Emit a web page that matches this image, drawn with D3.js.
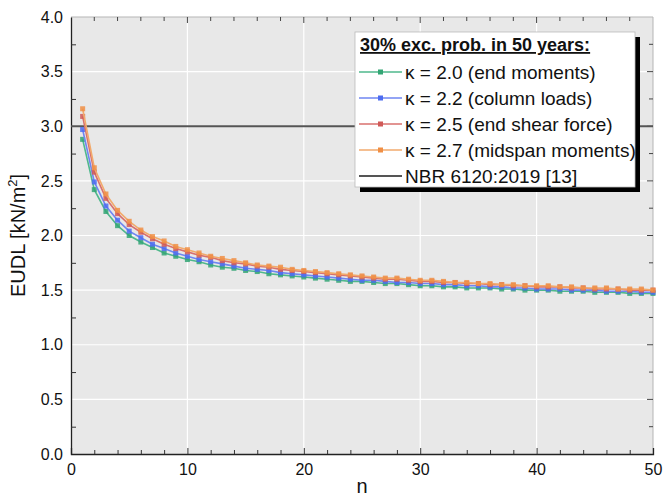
<!DOCTYPE html>
<html>
<head>
<meta charset="utf-8">
<script src="https://cdn.jsdelivr.net/npm/d3@7"></script>
<style>
  body { margin: 0; background: #fff; }
  text { font-family: "Liberation Sans", Arial, sans-serif; }
</style>
</head>
<body>
<div id="chart"></div>
<script>
// number of stories n = 1..50
const nValues = d3.range(1, 51);

// EUDL [kN/m2], one value per n
const k20 = [2.88, 2.42, 2.22, 2.09, 2.00, 1.94, 1.89, 1.84, 1.81, 1.78,
             1.76, 1.73, 1.71, 1.70, 1.68, 1.67, 1.65, 1.64, 1.63, 1.62,
             1.61, 1.60, 1.59, 1.58, 1.58, 1.57, 1.56, 1.56, 1.55, 1.54,
             1.54, 1.53, 1.53, 1.52, 1.52, 1.52, 1.51, 1.51, 1.50, 1.50,
             1.50, 1.49, 1.49, 1.49, 1.48, 1.48, 1.48, 1.47, 1.47, 1.47];
const k22 = [2.97, 2.49, 2.27, 2.14, 2.04, 1.98, 1.92, 1.88, 1.84, 1.81,
             1.78, 1.76, 1.74, 1.72, 1.70, 1.69, 1.68, 1.66, 1.65, 1.64,
             1.63, 1.62, 1.61, 1.60, 1.59, 1.59, 1.58, 1.57, 1.57, 1.56,
             1.56, 1.55, 1.55, 1.54, 1.54, 1.53, 1.53, 1.52, 1.52, 1.51,
             1.51, 1.51, 1.50, 1.50, 1.50, 1.49, 1.49, 1.49, 1.48, 1.48];
const k25 = [3.09, 2.58, 2.34, 2.20, 2.10, 2.03, 1.97, 1.92, 1.88, 1.85,
             1.82, 1.80, 1.77, 1.75, 1.74, 1.72, 1.71, 1.69, 1.68, 1.67,
             1.66, 1.65, 1.64, 1.63, 1.62, 1.61, 1.60, 1.60, 1.59, 1.58,
             1.58, 1.57, 1.57, 1.56, 1.56, 1.55, 1.55, 1.54, 1.54, 1.53,
             1.53, 1.53, 1.52, 1.52, 1.51, 1.51, 1.51, 1.50, 1.50, 1.50];
const k27 = [3.16, 2.62, 2.38, 2.23, 2.13, 2.05, 1.99, 1.95, 1.90, 1.87,
             1.84, 1.81, 1.79, 1.77, 1.75, 1.73, 1.72, 1.71, 1.69, 1.68,
             1.67, 1.66, 1.65, 1.64, 1.63, 1.62, 1.61, 1.61, 1.60, 1.59,
             1.59, 1.58, 1.57, 1.57, 1.56, 1.56, 1.55, 1.55, 1.54, 1.54,
             1.54, 1.53, 1.53, 1.52, 1.52, 1.52, 1.51, 1.51, 1.51, 1.50];
const nbrValue = 3.0;

const seriesNames = ["\u03BA = 2.0 (end moments)", "\u03BA = 2.2 (column loads)",
                     "\u03BA = 2.5 (end shear force)", "\u03BA = 2.7 (midspan moments)"];
const seriesData = [k20, k22, k25, k27];
const lineColors = ["#4fb88c", "#6f86f2", "#d8706e", "#f2aa6c"];
const markColors = ["#33a574", "#4d6cf0", "#d05a58", "#f08f45"];
const nbrName = "NBR 6120:2019 [13]";
const legendTitle = "30% exc. prob. in 50 years:";

const W = 663, H = 498;
const margin = {top: 17, right: 10, bottom: 44, left: 71};
const width = W - margin.left - margin.right,
      height = H - margin.top - margin.bottom;

const svg = d3.select("#chart").append("svg")
  .attr("width", W).attr("height", H);
const g = svg.append("g")
  .attr("transform", `translate(${margin.left},${margin.top})`);

const x = d3.scaleLinear().domain([0, 50]).range([0, width]);
const y = d3.scaleLinear().domain([0, 4]).range([height, 0]);

// plot background
g.append("rect").attr("width", width).attr("height", height).attr("fill", "#e8e8e8");

// white grid on major ticks
g.selectAll(".gx").data(d3.range(10, 50, 10)).join("line")
  .attr("x1", d => x(d)).attr("x2", d => x(d))
  .attr("y1", 0).attr("y2", height)
  .attr("stroke", "#fff").attr("stroke-width", 1.2);
g.selectAll(".gy").data(d3.range(0.5, 4, 0.5)).join("line")
  .attr("x1", 0).attr("x2", width)
  .attr("y1", d => y(d)).attr("y2", d => y(d))
  .attr("stroke", "#fff").attr("stroke-width", 1.2);

// top and right frame, light grey with inward ticks
g.append("line").attr("x1", 0).attr("x2", width).attr("y1", 0).attr("y2", 0)
  .attr("stroke", "#b5b5b5");
g.append("line").attr("x1", width).attr("x2", width).attr("y1", 0).attr("y2", height)
  .attr("stroke", "#b5b5b5");
g.selectAll(".tt").data(d3.range(2, 50, 2)).join("line")
  .attr("x1", d => x(d)).attr("x2", d => x(d))
  .attr("y1", 0).attr("y2", d => d % 10 === 0 ? 6 : 4)
  .attr("stroke", "#444");
g.selectAll(".rt").data(d3.range(0.25, 4, 0.25)).join("line")
  .attr("x1", width).attr("x2", d => width - (Math.abs(d % 0.5) < 1e-9 ? 6 : 4))
  .attr("y1", d => y(d)).attr("y2", d => y(d))
  .attr("stroke", "#444");

// axes
const xAxis = g.append("g").attr("transform", `translate(0,${height})`)
  .call(d3.axisBottom(x).tickValues(d3.range(0, 51, 10)).tickSize(-6).tickPadding(10)
    .tickFormat(d3.format("d")));
xAxis.selectAll(".tick").filter(d => d === 0 || d === 50).select("line").remove();
g.append("g").attr("transform", `translate(0,${height})`)
  .call(d3.axisBottom(x).tickValues(d3.range(2, 50, 2).filter(d => d % 10)).tickSize(-4).tickFormat(""))
  .select(".domain").remove();

const yAxis = g.append("g")
  .call(d3.axisLeft(y).tickValues(d3.range(0, 4.01, 0.5)).tickSize(0).tickPadding(8)
    .tickFormat(d3.format(".1f")));
g.append("g")
  .call(d3.axisLeft(y).tickValues(d3.range(0.25, 4, 0.5)).tickSize(-5).tickFormat(""))
  .select(".domain").remove();

g.selectAll(".domain").attr("stroke", "#222").attr("stroke-width", 1.3);
g.selectAll(".tick line").attr("stroke", "#333");
g.selectAll(".tick text").attr("font-size", 16).attr("fill", "#111")
  .attr("font-family", "Liberation Sans, Arial, sans-serif");

// axis titles
svg.append("text").attr("x", margin.left + width / 2).attr("y", 493)
  .attr("text-anchor", "middle").attr("font-size", 20).attr("fill", "#111").text("n");
const yt = svg.append("text")
  .attr("transform", `translate(25,${margin.top + height / 2}) rotate(-90)`)
  .attr("text-anchor", "middle").attr("font-size", 20).attr("fill", "#111");
yt.append("tspan").text("EUDL [kN/m");
yt.append("tspan").attr("font-size", 13).attr("dy", -8).text("2");
yt.append("tspan").attr("dy", 8).text("]");

// NBR reference line
g.append("line").attr("x1", 0).attr("x2", width)
  .attr("y1", y(nbrValue)).attr("y2", y(nbrValue))
  .attr("stroke", "#555").attr("stroke-width", 2);

// curves with square markers
const line = d3.line().x((d, i) => x(nValues[i])).y(d => y(d));
seriesData.forEach((vals, k) => {
  g.append("path").datum(vals).attr("d", line)
    .attr("fill", "none").attr("stroke", lineColors[k]).attr("stroke-width", 1.6);
  g.selectAll(null).data(vals).join("rect")
    .attr("x", (d, i) => x(nValues[i]) - 2.5).attr("y", d => y(d) - 2.5)
    .attr("width", 5).attr("height", 5)
    .attr("fill", markColors[k]).attr("fill-opacity", 0.85);
});

// legend
const lg = svg.append("g").attr("transform", "translate(355,32)");
const lw = 280, lh = 155;
lg.append("rect").attr("x", 5).attr("y", 5).attr("width", lw).attr("height", lh).attr("fill", "#000");
lg.append("rect").attr("width", lw).attr("height", lh).attr("fill", "#fff")
  .attr("stroke", "#bbb").attr("stroke-width", 0.8);
lg.append("text").attr("x", 5).attr("y", 19).attr("font-size", 18).attr("font-weight", "bold")
  .attr("text-decoration", "underline").attr("fill", "#111").text(legendTitle);
const rows = seriesNames.map((s, k) => ({name: s, color: lineColors[k], mark: markColors[k]}))
  .concat([{name: nbrName, color: "#555", mark: null}]);
rows.forEach((r, i) => {
  const cy = 40 + i * 26;
  lg.append("line").attr("x1", 4).attr("x2", 47).attr("y1", cy).attr("y2", cy)
    .attr("stroke", r.color).attr("stroke-width", r.mark ? 1.6 : 2);
  if (r.mark) lg.append("rect").attr("x", 23).attr("y", cy - 2.5).attr("width", 5).attr("height", 5)
    .attr("fill", r.mark);
  lg.append("text").attr("x", 50).attr("y", cy + 7).attr("font-size", 19)
    .attr("fill", "#111").text(r.name);
});
</script>
</body>
</html>
